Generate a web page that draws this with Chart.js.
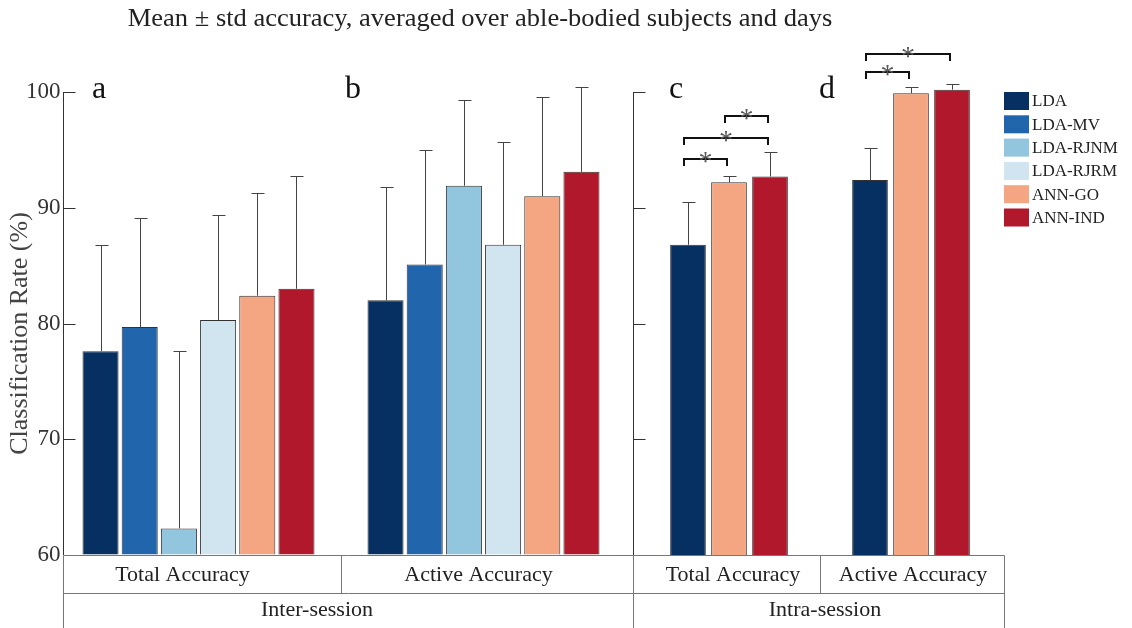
<!DOCTYPE html>
<html>
<head>
<meta charset="utf-8">
<script src="https://cdn.jsdelivr.net/npm/chart.js@4.4.1/dist/chart.umd.min.js"></script>
<style>
  html, body { margin: 0; padding: 0; background: #fff; }
  #wrap { position: relative; width: 1132px; height: 628px; overflow: hidden; }
  #wrap canvas { position: absolute; left: 0; top: 0; }
</style>
</head>
<body>
<div id="wrap">
  <canvas id="interChart" width="1132" height="628"></canvas>
  <canvas id="intraChart" width="1132" height="628"></canvas>
</div>
<script>
// ---- data ----
const methods = ["LDA", "LDA-MV", "LDA-RJNM", "LDA-RJRM", "ANN-GO", "ANN-IND"];
const methodColors = ["#053061", "#2166ac", "#92c5de", "#d1e5f0", "#f4a582", "#b2182b"];
const accuracyTypes = ["Total Accuracy", "Active Accuracy"];

// inter-session (panels a, b), one value per method
const interTotalMean = [77.6, 79.7, 62.3, 80.3, 82.4, 83.0];
const interTotalStd = [9.2, 9.4, 15.3, 9.1, 8.9, 9.7];
const interActiveMean = [82.0, 85.1, 91.9, 86.8, 91.0, 93.1];
const interActiveStd = [9.8, 9.9, 7.4, 8.9, 8.6, 7.3];

// intra-session (panels c, d), only LDA / ANN-GO / ANN-IND
const intraMethods = ["LDA", "ANN-GO", "ANN-IND"];
const intraTotalMean = [86.8, 92.2, 92.7];
const intraTotalStd = [3.7, 0.5, 2.1];
const intraActiveMean = [92.4, 99.9, 100.2];
const intraActiveStd = [2.8, 0.5, 0.5];

// significance brackets: group (0 = total, 1 = active), bar indices, height in %
const sigBrackets = [
  { group: 0, from: 0, to: 1, level: 94.2 },
  { group: 0, from: 0, to: 2, level: 96.0 },
  { group: 0, from: 1, to: 2, level: 97.9 },
  { group: 1, from: 0, to: 1, level: 101.7 },
  { group: 1, from: 0, to: 2, level: 103.3 },
];

const yMin = 60;
const yMax = 100;
const yStep = 10;

const SERIF = "'Liberation Serif', 'DejaVu Serif', serif";
Chart.defaults.font.family = SERIF;

const ROW_H = 38; // height of a row in the table under the bars

// error bars: only the upper half (mean -> mean + std)
const errorBars = {
  id: "errorBars",
  afterDatasetsDraw(chart) {
    const { ctx } = chart;
    const y = chart.scales.y;
    ctx.save();
    ctx.strokeStyle = "#444";
    ctx.lineWidth = 1;
    chart.data.datasets.forEach((ds, di) => {
      const meta = chart.getDatasetMeta(di);
      meta.data.forEach((bar, i) => {
        const v = ds.data[i];
        if (v == null) return;
        const x = Math.round(bar.x) + 0.5;
        const top = Math.round(y.getPixelForValue(v + ds.errors[i])) + 0.5;
        ctx.beginPath();
        ctx.moveTo(x, bar.y);
        ctx.lineTo(x, top);
        ctx.moveTo(x - 6, top);
        ctx.lineTo(x + 7, top);
        ctx.stroke();
      });
    });
    ctx.restore();
  },
};

// y axis line (shifted from the plot edge) with ticks pointing into the plot
function axisX(chart) {
  return Math.round(chart.chartArea.left + chart.options.axisShift) + 0.5;
}

const axisLine = {
  id: "axisLine",
  afterDraw(chart) {
    const { ctx, chartArea } = chart;
    const y = chart.scales.y;
    const x0 = axisX(chart);
    ctx.save();
    ctx.strokeStyle = "#333";
    ctx.lineWidth = 1;
    ctx.beginPath();
    ctx.moveTo(x0, chartArea.top);
    ctx.lineTo(x0, chartArea.bottom);
    y.ticks.forEach((t) => {
      if (t.value <= yMin) return;
      const py = Math.round(y.getPixelForValue(t.value)) + 0.5;
      ctx.moveTo(x0, py);
      ctx.lineTo(x0 + 12, py);
    });
    ctx.stroke();
    // tick labels sit just left of the (shifted) axis line
    if (chart.options.axisLabels) {
      ctx.fillStyle = "#333";
      ctx.font = "23px " + SERIF;
      ctx.textAlign = "right";
      ctx.textBaseline = "middle";
      y.ticks.forEach((t) => {
        ctx.fillText(String(t.value), x0 - 3, y.getPixelForValue(t.value));
      });
    }
    ctx.restore();
  },
};

// table of category / session labels under the bars
function drawTable(chart, session, rightEdge, labelShift, sessionShift) {
  const { ctx, chartArea } = chart;
  const n = chart.data.labels.length;
  const w = (chartArea.right - chartArea.left) / n;
  const left = axisX(chart);
  const y0 = Math.round(chartArea.bottom) + 0.5;
  const y1 = y0 + ROW_H;
  const y2 = y1 + ROW_H;
  ctx.save();
  ctx.strokeStyle = "#777";
  ctx.lineWidth = 1;
  ctx.beginPath();
  ctx.moveTo(left, y0);
  ctx.lineTo(rightEdge, y0);
  ctx.moveTo(left, y1);
  ctx.lineTo(rightEdge, y1);
  const xs = [left];
  for (let k = 1; k < n; k++) xs.push(Math.round(chartArea.left + k * w) + 0.5);
  xs.push(rightEdge);
  xs.forEach((x, k) => {
    ctx.moveTo(x, y0);
    ctx.lineTo(x, k === 0 || k === n ? y2 : y1);
  });
  ctx.stroke();
  ctx.fillStyle = "#222";
  ctx.font = "22px " + SERIF;
  ctx.textAlign = "center";
  ctx.textBaseline = "middle";
  chart.data.labels.forEach((lab, k) => {
    ctx.fillText(lab, chartArea.left + (k + 0.5) * w + labelShift[k], y0 + ROW_H / 2 + 1);
  });
  ctx.fillText(session, (chartArea.left + chartArea.right) / 2 + sessionShift, y1 + ROW_H / 2 - 2);
  ctx.restore();
}

function drawLetters(chart, letters, dx) {
  const { ctx, chartArea } = chart;
  const n = chart.data.labels.length;
  const w = (chartArea.right - chartArea.left) / n;
  ctx.save();
  ctx.fillStyle = "#111";
  ctx.font = "32px " + SERIF;
  ctx.textAlign = "left";
  ctx.textBaseline = "alphabetic";
  letters.forEach((l, k) => {
    ctx.fillText(l, chartArea.left + k * w + dx[k], chartArea.top + 6);
  });
  ctx.restore();
}

const interDecor = {
  id: "interDecor",
  afterDraw(chart) {
    const { ctx, chartArea } = chart;
    drawTable(chart, "Inter-session", 633.5, [-16, -5], -24);
    drawLetters(chart, ["a", "b"], [36, 4]);
    ctx.save();
    // y title
    ctx.fillStyle = "#444";
    ctx.font = "26px " + SERIF;
    ctx.textAlign = "center";
    ctx.textBaseline = "middle";
    ctx.translate(20, (chartArea.top + chartArea.bottom) / 2 + 10);
    ctx.rotate(-Math.PI / 2);
    ctx.fillText("Classification Rate (%)", 0, 0);
    ctx.restore();
    // figure title (slightly wide lettering, as in the original)
    ctx.save();
    ctx.fillStyle = "#222";
    ctx.font = "25px " + SERIF;
    ctx.textAlign = "center";
    ctx.textBaseline = "middle";
    ctx.translate(480, 19);
    ctx.scale(1.06, 1);
    ctx.fillText("Mean \u00b1 std accuracy, averaged over able-bodied subjects and days", 0, 0);
    ctx.restore();
  },
};

const intraDecor = {
  id: "intraDecor",
  afterDraw(chart) {
    const { ctx, chartArea } = chart;
    drawTable(chart, "Intra-session", Math.round(chartArea.right) + 2.5, [4, 2], 5);
    drawLetters(chart, ["c", "d"], [31, -1]);
    const y = chart.scales.y;

    // significance brackets and stars
    ctx.save();
    ctx.strokeStyle = "#111";
    ctx.lineWidth = 2;
    ctx.fillStyle = "#555";
    ctx.font = "28px " + SERIF;
    ctx.textAlign = "center";
    ctx.textBaseline = "alphabetic";
    sigBrackets.forEach((b) => {
      const x1 = Math.round(chart.getDatasetMeta(b.from).data[b.group].x) - 4;
      const x2 = Math.round(chart.getDatasetMeta(b.to).data[b.group].x) - 2;
      const py = Math.round(y.getPixelForValue(b.level));
      ctx.beginPath();
      ctx.moveTo(x1, py + 7);
      ctx.lineTo(x1, py);
      ctx.lineTo(x2, py);
      ctx.lineTo(x2, py + 7);
      ctx.stroke();
      ctx.fillText("*", (x1 + x2) / 2, py + 11);
    });
    ctx.restore();

    // legend listing every method
    ctx.save();
    ctx.font = "17px " + SERIF;
    ctx.textAlign = "left";
    ctx.textBaseline = "middle";
    const lx = Math.round(chartArea.right) + 2;
    methods.forEach((m, i) => {
      const ty = chartArea.top + i * 23.3;
      ctx.fillStyle = methodColors[i];
      ctx.fillRect(lx, ty, 25, 18);
      ctx.fillStyle = "#222";
      ctx.fillText(m, lx + 28, ty + 10);
    });
    ctx.restore();
  },
};

function barDataset(label, color, means, stds, catPct, barPct) {
  return {
    label: label,
    data: means,
    errors: stds,
    base: yMin,
    backgroundColor: color,
    borderColor: "#333",
    borderWidth: 1,
    categoryPercentage: catPct,
    barPercentage: barPct,
    clip: false,
  };
}

new Chart(document.getElementById("interChart"), {
  type: "bar",
  data: {
    labels: accuracyTypes,
    datasets: methods.map((m, i) =>
      barDataset(m, methodColors[i], [interTotalMean[i], interActiveMean[i]], [interTotalStd[i], interActiveStd[i]], 0.825, 0.92)
    ),
  },
  options: {
    responsive: false,
    animation: false,
    events: [],
    axisShift: 7,
    axisLabels: true,
    layout: { padding: { top: 92, bottom: 73, left: 0, right: 506 } },
    plugins: { legend: { display: false }, tooltip: { enabled: false } },
    scales: {
      x: { display: false },
      y: {
        min: yMin,
        max: yMax,
        ticks: { stepSize: yStep, display: false },
        grid: { drawOnChartArea: false, drawTicks: false },
        border: { display: false },
        afterFit(scale) {
          scale.width = 56;
        },
      },
    },
  },
  plugins: [errorBars, axisLine, interDecor],
});

const intraIdx = intraMethods.map((m) => methods.indexOf(m));

new Chart(document.getElementById("intraChart"), {
  type: "bar",
  data: {
    labels: accuracyTypes,
    datasets: intraMethods.map((m, i) =>
      barDataset(m, methodColors[intraIdx[i]], [intraTotalMean[i], intraActiveMean[i]], [intraTotalStd[i], intraActiveStd[i]], 0.676, 0.87)
    ),
  },
  options: {
    responsive: false,
    animation: false,
    events: [],
    axisShift: -5,
    axisLabels: false,
    layout: { padding: { top: 92, bottom: 73, left: 638, right: 130 } },
    plugins: { legend: { display: false }, tooltip: { enabled: false } },
    scales: {
      x: { display: false },
      y: { display: false, min: yMin, max: yMax, ticks: { stepSize: yStep } },
    },
  },
  plugins: [errorBars, axisLine, intraDecor],
});
</script>
</body>
</html>
